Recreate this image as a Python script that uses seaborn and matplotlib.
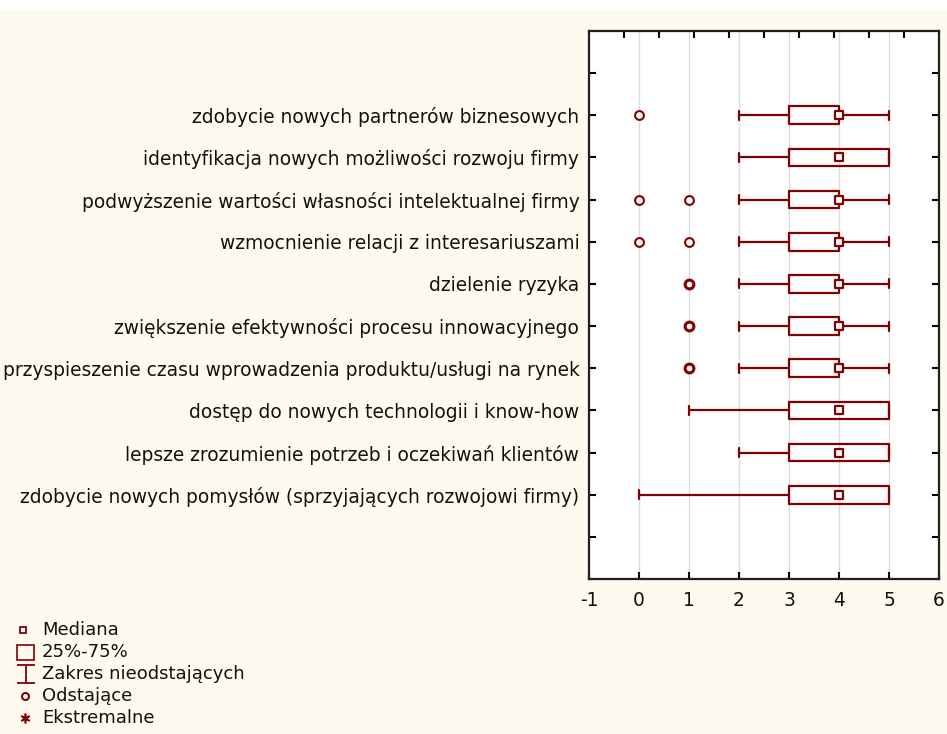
"""
Box plot of collaboration goals (STATISTICA-style), recreated with seaborn/matplotlib.
"""
from collections import Counter

import numpy as np
import matplotlib.pyplot as plt
import seaborn as sns
from matplotlib.patches import Rectangle
from matplotlib.path import Path

# ---- data ----
categories = [
    'zdobycie nowych partnerów biznesowych',
    'identyfikacja nowych możliwości rozwoju firmy',
    'podwyższenie wartości własności intelektualnej firmy',
    'wzmocnienie relacji z interesariuszami',
    'dzielenie ryzyka',
    'zwiększenie efektywności procesu innowacyjnego',
    'przyspieszenie czasu wprowadzenia produktu/usługi na rynek',
    'dostęp do nowych technologii i know-how',
    'lepsze zrozumienie potrzeb i oczekiwań klientów',
    'zdobycie nowych pomysłów (sprzyjających rozwojowi firmy)',
]
medians = [4, 4, 4, 4, 4, 4, 4, 4, 4, 4]
q1 = [3, 3, 3, 3, 3, 3, 3, 3, 3, 3]
q3 = [4, 5, 4, 4, 4, 4, 4, 5, 5, 5]
whisker_low = [2, 2, 2, 2, 2, 2, 2, 1, 2, 0]
whisker_high = [5, 5, 5, 5, 5, 5, 5, 5, 5, 5]
outliers = [[0], [], [0, 1], [0, 1], [1, 1], [1, 1], [1, 1], [], [], []]

legend_labels = ['Mediana', '25%-75%', 'Zakres nieodstających', 'Odstające', 'Ekstremalne']

RED = '#820000'
BG = '#FFFAF0'
W, H = 947, 734

sns.set_theme(style='white')
plt.rcParams['font.family'] = ['DejaVu Sans']
plt.rcParams['font.size'] = 13
plt.rcParams['axes.unicode_minus'] = False

fig = plt.figure(figsize=(W / 100, H / 100), dpi=100, facecolor=BG)
# thin white strip along the top edge
fig.add_artist(Rectangle((0, 1 - 10 / H), 1, 10 / H, transform=fig.transFigure,
                         facecolor='white', edgecolor='none'))

ax = fig.add_axes([589 / W, 1 - 579 / H, (939 - 589) / W, (579 - 31) / H])
ax.set_facecolor('white')

positions = np.arange(2, 2 + len(categories))
stats = [
    dict(med=m, q1=a, q3=b, whislo=lo, whishi=hi, fliers=[])
    for m, a, b, lo, hi in zip(medians, q1, q3, whisker_low, whisker_high)
]
line_kw = dict(color=RED, linewidth=1.6)
ax.bxp(stats, positions=positions, orientation='horizontal', widths=0.42,
       capwidths=0.21, showfliers=False, patch_artist=False,
       boxprops=line_kw, whiskerprops=line_kw, capprops=line_kw,
       medianprops=dict(linewidth=0), manage_ticks=False, zorder=3)

# median markers
sns.scatterplot(x=medians, y=positions, ax=ax, marker='s', s=40, color='white',
                edgecolor=RED, linewidth=1.6, zorder=5, legend=False)

# outliers (thicker ring where several answers overlap)
for pos, vals in zip(positions, outliers):
    for v, n in Counter(vals).items():
        sns.scatterplot(x=[v], y=[pos], ax=ax, marker='o', s=40, color='white',
                        edgecolor=RED, linewidth=1.5 + 0.7 * (n - 1), zorder=5,
                        legend=False)

ax.set_xlim(-1, 6)
ax.set_xticks(range(-1, 7))
ax.set_ylim(13, 0)
ax.set_yticks(range(1, 13))
ax.set_yticklabels([''] + categories + [''])
ax.set_xlabel('')
ax.set_ylabel('')
ax.grid(False)
for x in range(0, 6):
    ax.axvline(x, color='#DCDCDC', linewidth=1, zorder=0)

ax.tick_params(axis='x', direction='in', length=5, width=1.5, pad=9,
               labelsize=13.4, bottom=True)
ax.tick_params(axis='y', direction='in', length=5, width=1.5, pad=7,
               labelsize=13.4, left=True, right=True)
ax.tick_params(axis='both', colors='black', labelcolor='#111111')
for sp in ax.spines.values():
    sp.set_visible(True)
    sp.set_color('black')
    sp.set_linewidth(1.6)

# top axis carries its own 10-division ticks
top = ax.twiny()
top.set_xlim(0, 10)
top.set_xticks(range(1, 10))
top.set_xticklabels([])
top.tick_params(axis='x', direction='in', length=5, width=1.5, top=True,
                colors='black')
top.grid(False)

# ---- legend drawn in pixel coordinates ----
leg = fig.add_axes([0, 0, 1, 1], zorder=-1)
leg.set_xlim(0, W)
leg.set_ylim(H, 0)
leg.axis('off')
leg.patch.set_alpha(0)

row_y = [630, 652, 674, 696, 718]
leg.plot([22.5], [row_y[0]], marker='s', ms=5, mfc='white', mec=RED, mew=1.3)
leg.add_patch(Rectangle((17, row_y[1] - 7.5), 17, 15, facecolor='none',
                        edgecolor=RED, linewidth=1.2))
ibeam = Path([(-1, -1), (1, -1), (0, -1), (0, 1), (-1, 1), (1, 1)],
             [Path.MOVETO, Path.LINETO, Path.MOVETO, Path.LINETO,
              Path.MOVETO, Path.LINETO])
leg.plot([25.5], [row_y[2]], marker=ibeam, ms=12.5, mec=RED, mew=1.3)
leg.plot([25], [row_y[3]], marker='o', ms=5, mfc='white', mec=RED, mew=1.5)
leg.plot([25], [row_y[4]], marker=(6, 2, 0), ms=7, mec=RED, mew=1.2)
for y, lab in zip(row_y, legend_labels):
    leg.text(42, y, lab, va='center', ha='left', fontsize=13, color='#111111')

fig.savefig('out.png', dpi=100, facecolor=BG)
